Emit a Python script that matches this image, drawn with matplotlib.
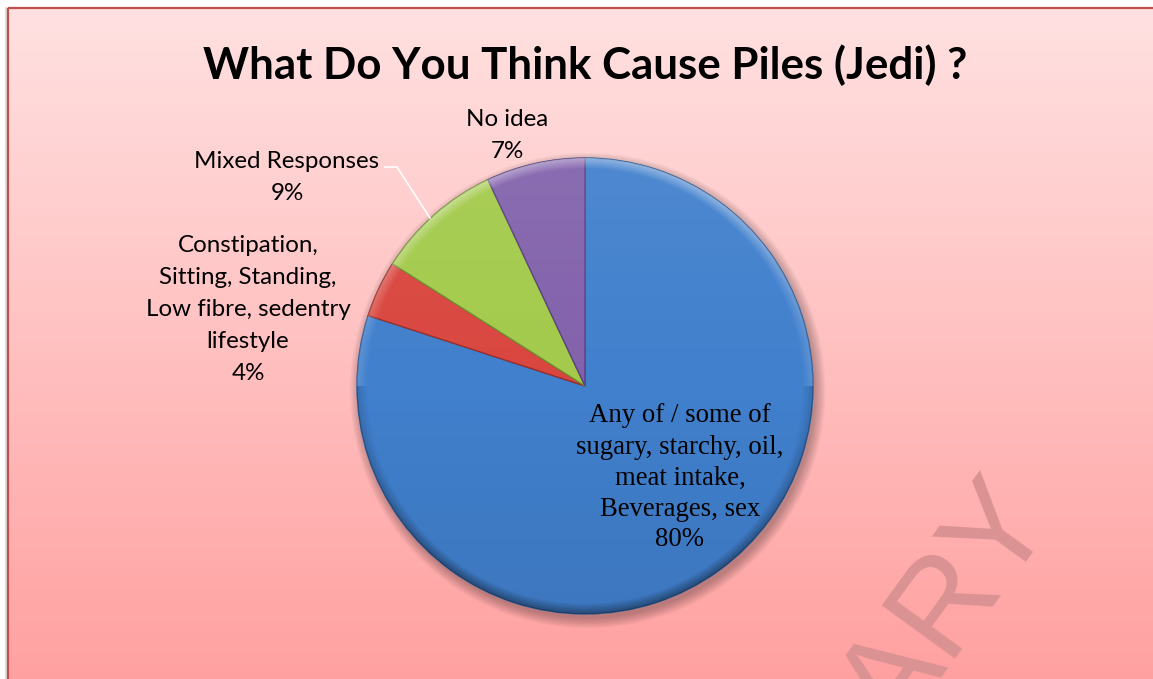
import numpy as np
import matplotlib
matplotlib.use('Agg')
import matplotlib.pyplot as plt
from matplotlib.patches import Rectangle, Circle
from matplotlib.lines import Line2D

# ---------------- data ----------------
title = "What Do You Think Cause Piles (Jedi) ?"
categories = [
    "Any of / some of\nsugary, starchy, oil,\nmeat intake,\nBeverages, sex",
    "Constipation,\nSitting, Standing,\nLow fibre, sedentry\nlifestyle",
    "Mixed Responses",
    "No idea",
]
values = [80, 4, 9, 7]
pct_labels = ["80%", "4%", "9%", "7%"]
colors = ['#4180CD', '#D9463F', '#A3CA4B', '#8262AC']
edge_colors = ['#2E5C97', '#9C2E2A', '#6F8F2C', '#5A4380']
watermark = "LIBRARY"

# ---------------- layout (pixels) ----------------
W, H = 1153, 679
cx, cy, R = 585, 386, 228
label_pos = {0: (680, 413), 1: (248, 244), 2: (287, 160), 3: (507, 118)}
step = 32

fig = plt.figure(figsize=(W / 100, H / 100), dpi=100)
fig.patch.set_facecolor('white')
renderer = fig.canvas.get_renderer()

# background axes in pixel coordinates
bg = fig.add_axes([0, 0, 1, 1], zorder=0)
t = np.linspace(0, 1, 256)[:, None, None]
top = np.array([255, 225, 225]) / 255
bot = np.array([255, 160, 160]) / 255
grad = top * (1 - t) + bot * t
bg.imshow(grad, extent=[8, W + 5, H + 5, 8], aspect='auto', zorder=1,
          interpolation='bilinear')
bg.add_line(Line2D([5.5, 5.5], [8, H], color='#D8D8D8', lw=2, zorder=1))
bg.add_patch(Rectangle((8, 8), W + 20, H + 20, fill=False,
                       edgecolor='#C0504D', lw=1.6, zorder=2))
bg.set_xlim(0, W)
bg.set_ylim(H, 0)
bg.axis('off')

# watermark
bg.text(1052, 512, watermark, rotation=54, rotation_mode='anchor',
        ha='right', va='baseline', fontsize=95, family='Liberation Sans',
        color='#DA9292', zorder=3)

# ---------------- pie ----------------
m = 1.1
ax = fig.add_axes([(cx - R * m) / W, (H - cy - R * m) / H,
                   2 * R * m / W, 2 * R * m / H], zorder=2)
ax.patch.set_alpha(0)

for k in range(8):
    ax.add_patch(Circle((0.012, -0.02), 1.0 + k * 0.006, color='black',
                        alpha=0.035, lw=0, zorder=0))

wedges, _ = ax.pie(values, colors=colors, startangle=90, counterclock=False,
                   radius=1, wedgeprops=dict(linewidth=1.0, zorder=1))
for w, ec in zip(wedges, edge_colors):
    w.set_edgecolor(ec)

# shading overlay (light top, darker bottom, bevel rim)
N = 500
xs = np.linspace(-1, 1, N)
X, Y = np.meshgrid(xs, xs[::-1])
r = np.hypot(X, Y)
shade = np.zeros((N, N, 4))
light = Y > 0
a = 0.07 * np.abs(Y)
rim = np.clip((r - 0.955) / 0.045, 0, 1)
rim_light = rim * np.clip(Y + 0.2, 0, 1) * 0.35
rim_dark = rim * np.clip(-Y + 0.2, 0, 1) * 0.35
white_a = np.where(light, a, 0) + rim_light
black_a = np.where(~light, a, 0) + rim_dark
alpha = np.clip(white_a + black_a, 0, 1)
col = np.where((white_a > black_a)[..., None], 1.0, 0.0)
shade[..., :3] = col
shade[..., 3] = alpha
for w in wedges:
    im = ax.imshow(shade, extent=[-1, 1, -1, 1], zorder=2,
                   interpolation='bilinear')
    im.set_clip_path(w)

ax.set_xlim(-m, m)
ax.set_ylim(-m, m)
ax.set_aspect('equal')
ax.axis('off')

# ---------------- text overlay ----------------
fg = fig.add_axes([0, 0, 1, 1], zorder=10)
fg.patch.set_alpha(0)
fg.set_xlim(0, W)
fg.set_ylim(H, 0)
fg.axis('off')


def fit_size(text, target, **kw):
    tt = fig.text(0, 0, text, fontsize=20, **kw)
    w = tt.get_window_extent(renderer=renderer).width
    tt.remove()
    return 20 * target / w


tsize = fit_size(title, 765, family='Lato', weight='bold')
fg.text(585.5, 62, title, fontsize=tsize, family='Lato', weight='bold',
        ha='center', va='center_baseline')

sans = 'Lato'
lsize = fit_size("Mixed Responses", 186, family=sans)
ssize = fit_size("sugary, starchy, oil,", 207, family='Liberation Serif')
for i, (cat, pct) in enumerate(zip(categories, pct_labels)):
    x0, y0 = label_pos[i]
    lines = cat.split("\n") + [pct]
    fam = 'Liberation Serif' if i == 0 else sans
    size = ssize if i == 0 else lsize
    st = 31 if i == 0 else step
    for j, ln in enumerate(lines):
        fg.text(x0, y0 + j * st, ln, fontsize=size, family=fam, ha='center',
                va='center_baseline', color='black')

fg.add_line(Line2D([385, 397, 430], [167, 167, 218], color='white', lw=1.2))

fig.savefig('out.png', dpi=100)
